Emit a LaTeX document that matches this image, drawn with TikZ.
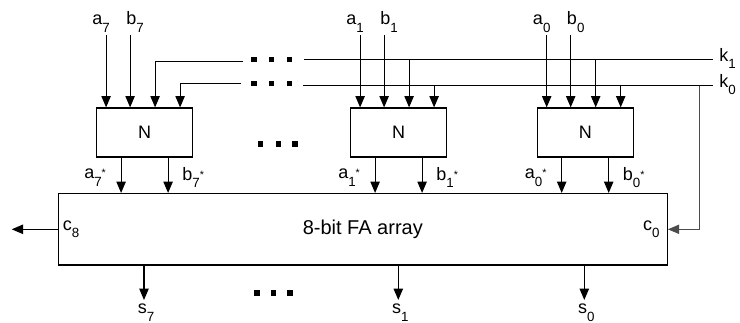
\documentclass[tikz,border=0pt]{standalone}
\usepackage{fontspec}
\setmainfont{Liberation Sans}
\usetikzlibrary{positioning, arrows.meta, calc}

% label with lowered index, and its starred form
\newcommand{\idx}[2]{#1\raisebox{-5.5pt}{\fontsize{10}{10}\selectfont #2}}
\newcommand{\idxs}[2]{\idx{#1}{#2}\raisebox{1.5pt}{\fontsize{8}{8}\selectfont *}}

\begin{document}
\begin{tikzpicture}[
      x=0.75pt, y=-0.75pt,
      font=\fontsize{13.5}{14}\selectfont,
      line width=0.9pt,
      nbox/.style={draw, minimum width=72pt, minimum height=36.75pt, inner sep=0pt},
      fabox/.style={draw, minimum width=456.75pt, minimum height=53.6pt, inner sep=0pt},
      lbl/.style={inner sep=2pt},
      arr/.style={-{Triangle[length=8.5pt, width=7pt]}},
      dotsq/.style={fill, minimum size=3.8pt, inner sep=0pt},
      fb/.style={black!70},
    ]
    \useasboundingbox (0,0) rectangle (740,322);

    % N blocks
    \node[nbox] (N7) at (144.7,132.5) {N};
    \node[nbox] (N1) at (398.7,132.5) {N};
    \node[nbox] (N0) at (585.3,132.5) {N};

    % Adder array
    \node[fabox, font=\fontsize{15}{16}\selectfont] (fa) at (362.8,229.3) {8-bit FA array};

    % Control lines k1 / k0
    \coordinate (k1l) at (243,61.5);
    \coordinate (k0l) at (241,83.5);
    \coordinate (k1r) at (304,59.5);
    \coordinate (k0r) at (303,85.5);
    \coordinate (k1e) at (713,59.5);
    \coordinate (k0e) at (713,85.5);
    \node[lbl, anchor=west] (k1) at ($(k1e)+(3,-1)$) {\idx{k}{1}};
    \node[lbl, anchor=west] (k0) at ($(k0e)+(3,-1)$) {\idx{k}{0}};
    \draw (k1r) -- (k1e);
    \draw (k0r) -- (k0e);

    % Inputs of each N block
    \foreach \i in {7,1,0} {
      \coordinate (pa\i) at ($(N\i.north west)+(10,0)$);
      \coordinate (pb\i) at ($(N\i.north west)+(34,0)$);
      \coordinate (pk1\i) at ($(N\i.north west)+(59,0)$);
      \coordinate (pk0\i) at ($(N\i.north west)+(84,0)$);
      \node[lbl, anchor=south] (a\i) at ($(N\i.north west)+(5,-72)$) {\idx{a}{\i}};
      \node[lbl, anchor=south] (b\i) at ($(N\i.north west)+(39,-72)$) {\idx{b}{\i}};
      \draw[arr] (pa\i |- a\i.south) -- (pa\i);
      \draw[arr] (pb\i |- b\i.south) -- (pb\i);
    }
    \draw[arr] (k1l) -| (pk17);
    \draw[arr] (k0l) -| (pk07);
    \foreach \i in {1,0} {
      \draw[arr] (pk1\i |- k1r) -- (pk1\i);
      \draw[arr] (pk0\i |- k0r) -- (pk0\i);
    }

    % Outputs of each N block
    \foreach \i in {7,1,0} {
      \coordinate (po\i) at ($(N\i.south west)+(25,0)$);
      \coordinate (qo\i) at ($(N\i.south west)+(72,0)$);
      \draw[arr] (po\i) -- (po\i |- fa.north);
      \draw[arr] (qo\i) -- (qo\i |- fa.north);
      \node[lbl, anchor=east] (as\i) at ($(po\i)+(-12,20)$) {\idxs{a}{\i}};
      \node[lbl, anchor=west] (bs\i) at ($(qo\i)+(11,20)$) {\idxs{b}{\i}};
    }

    % Carries
    \coordinate (c8e) at (11.7,229.3);
    \draw[arr] (fa.west) -- (c8e);
    \node[lbl, anchor=west] (c8) at ($(fa.west)+(2,0)$) {\idx{c}{8}};
    \node[lbl, anchor=east] (c0) at ($(fa.east)+(-5,0)$) {\idx{c}{0}};
    \coordinate (fbt) at (699.3,85.5);
    \draw[arr, fb] (fbt) |- (fa.east);

    % Sums
    \foreach \x/\i in {144/7, 398.3/1, 584.3/0} {
      \coordinate (ps\i) at (\x,300);
      \draw[arr] (ps\i |- fa.south) -- (ps\i);
      \node[lbl, anchor=north] (s\i) at ($(ps\i)+(2,1)$) {\idx{s}{\i}};
    }

    % Ellipses
    \foreach \x [count=\j] in {254,271.7,289.3} {
      \node[dotsq] (dk1\j) at (\x,59.5) {};
      \node[dotsq] (dk0\j) at (\x,83.5) {};
    }
    \foreach \x [count=\j] in {260.7,278.3,295} \node[dotsq] (dm\j) at (\x,144) {};
    \foreach \x [count=\j] in {257,273.5,290} \node[dotsq] (ds\j) at (\x,293) {};
  \end{tikzpicture}
\end{document}
